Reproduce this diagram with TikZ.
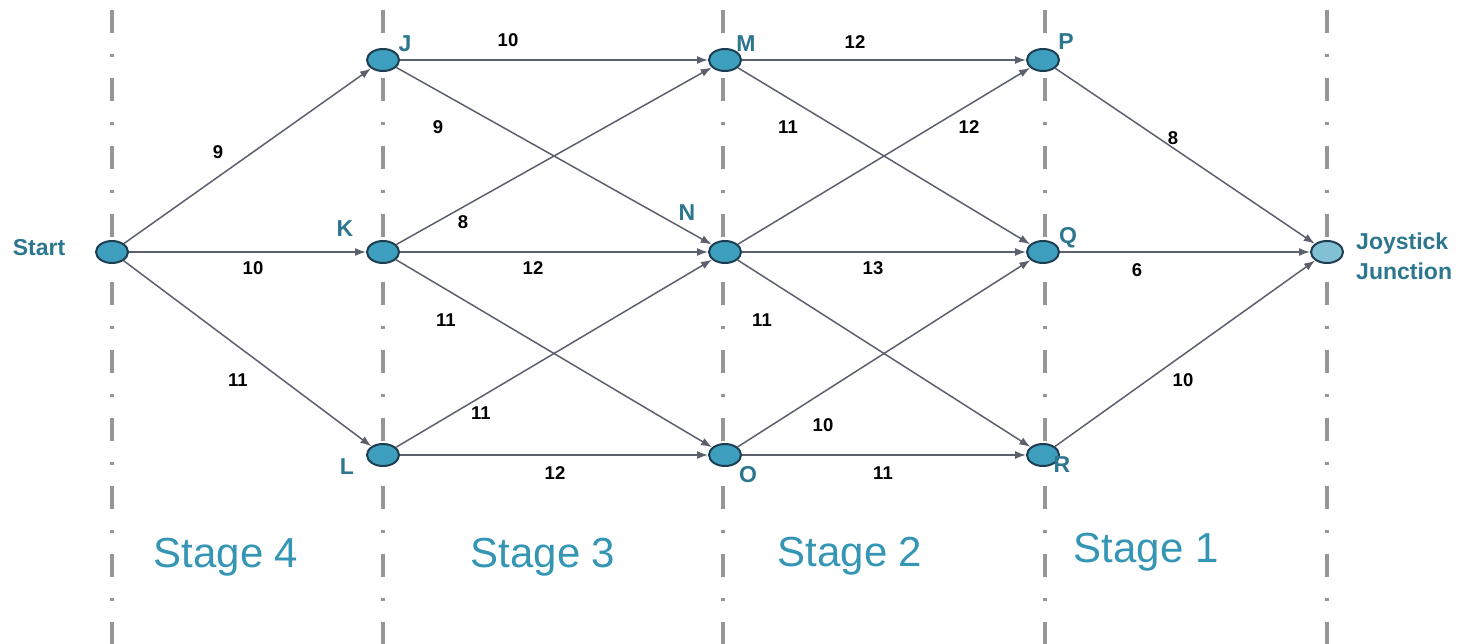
\documentclass[tikz,border=0pt]{standalone}
\usepackage{fontspec}
\setmainfont{Liberation Sans}
\usetikzlibrary{arrows.meta,shapes.geometric}
\definecolor{nodefill}{RGB}{62,158,190}
\definecolor{nodeedge}{RGB}{28,62,80}
\definecolor{labelteal}{RGB}{44,118,142}
\definecolor{stageteal}{RGB}{52,150,180}
\definecolor{arcgray}{RGB}{92,96,108}
\definecolor{stagegray}{RGB}{150,150,150}

\begin{document}
\begin{tikzpicture}[
    x=1pt, y=-1pt,
    state/.style={ellipse,draw=nodeedge,fill=nodefill,line width=2pt,
      minimum width=32pt,minimum height=22pt,inner sep=0pt},
    goal/.style={state,fill=nodefill!65!white},
    tag/.style={text=labelteal,font=\fontsize{23}{30}\selectfont\bfseries,inner sep=0pt},
    wt/.style={font=\fontsize{18.5}{20}\selectfont\bfseries,inner sep=0pt},
    stagelbl/.style={text=stageteal,font=\fontsize{42}{46}\selectfont,anchor=base,inner sep=0pt},
    divider/.style={draw=stagegray,line width=4pt,dash pattern=on 23pt off 21pt on 3pt off 21pt},
    link/.style={-{Latex[length=11pt,width=8pt]},draw=arcgray,line width=1.5pt}
  ]
    \useasboundingbox (0,0) rectangle (1477,644);

    % stage boundaries
    \foreach \x in {112,383,723,1045,1327}
      \draw[divider] (\x,10) -- (\x,644);

    \node[state] (start) at (112,252) {};
    \node[state] (J) at (383,60) {};
    \node[state] (K) at (383,252) {};
    \node[state] (L) at (383,455) {};
    \node[state] (M) at (725,60) {};
    \node[state] (N) at (725,252) {};
    \node[state] (O) at (725,455) {};
    \node[state] (P) at (1043,60) {};
    \node[state] (Q) at (1043,252) {};
    \node[state] (R) at (1043,455) {};
    \node[goal] (end) at (1327,252) {};

    \foreach \a/\b in {start/J,start/K,start/L,J/M,J/N,K/M,K/N,K/O,L/N,L/O,
                       M/P,M/Q,N/P,N/Q,N/R,O/Q,O/R,P/end,Q/end,R/end}
      \draw[link] (\a) -- (\b);

    % node names
    \node[tag] (start-lbl) at (39,248) {Start};
    \node[tag] (J-lbl) at (405,44) {J};
    \node[tag] (K-lbl) at (345,229) {K};
    \node[tag] (L-lbl) at (347,467) {L};
    \node[tag] (M-lbl) at (746,44) {M};
    \node[tag] (N-lbl) at (687,213) {N};
    \node[tag] (O-lbl) at (748,475) {O};
    \node[tag] (P-lbl) at (1066,42) {P};
    \node[tag] (Q-lbl) at (1068,238) {Q};
    \node[tag] (R-lbl) at (1062,465) {R};
    \node[tag,anchor=west,align=left] (end-lbl) at (1356,256) {Joystick\\Junction};

    % weights
    \node[wt] (w-sJ) at (218,152) {9};
    \node[wt] (w-sK) at (253,268) {10};
    \node[wt] (w-sL) at (238,380) {11};
    \node[wt] (w-JM) at (508,40) {10};
    \node[wt] (w-JN) at (438,127) {9};
    \node[wt] (w-KM) at (463,222) {8};
    \node[wt] (w-KN) at (533,268) {12};
    \node[wt] (w-KO) at (446,320) {11};
    \node[wt] (w-LN) at (481,413) {11};
    \node[wt] (w-LO) at (555,473) {12};
    \node[wt] (w-MP) at (855,42) {12};
    \node[wt] (w-MQ) at (788,127) {11};
    \node[wt] (w-NP) at (969,127) {12};
    \node[wt] (w-NQ) at (873,268) {13};
    \node[wt] (w-NR) at (762,320) {11};
    \node[wt] (w-OQ) at (823,425) {10};
    \node[wt] (w-OR) at (883,473) {11};
    \node[wt] (w-Pe) at (1173,138) {8};
    \node[wt] (w-Qe) at (1137,270) {6};
    \node[wt] (w-Re) at (1183,380) {10};

    % stages
    \node[stagelbl] (st4) at (226,567) {Stage 4};
    \node[stagelbl] (st3) at (543,567) {Stage 3};
    \node[stagelbl] (st2) at (850,566) {Stage 2};
    \node[stagelbl] (st1) at (1146,562) {Stage 1};
  \end{tikzpicture}
\end{document}
